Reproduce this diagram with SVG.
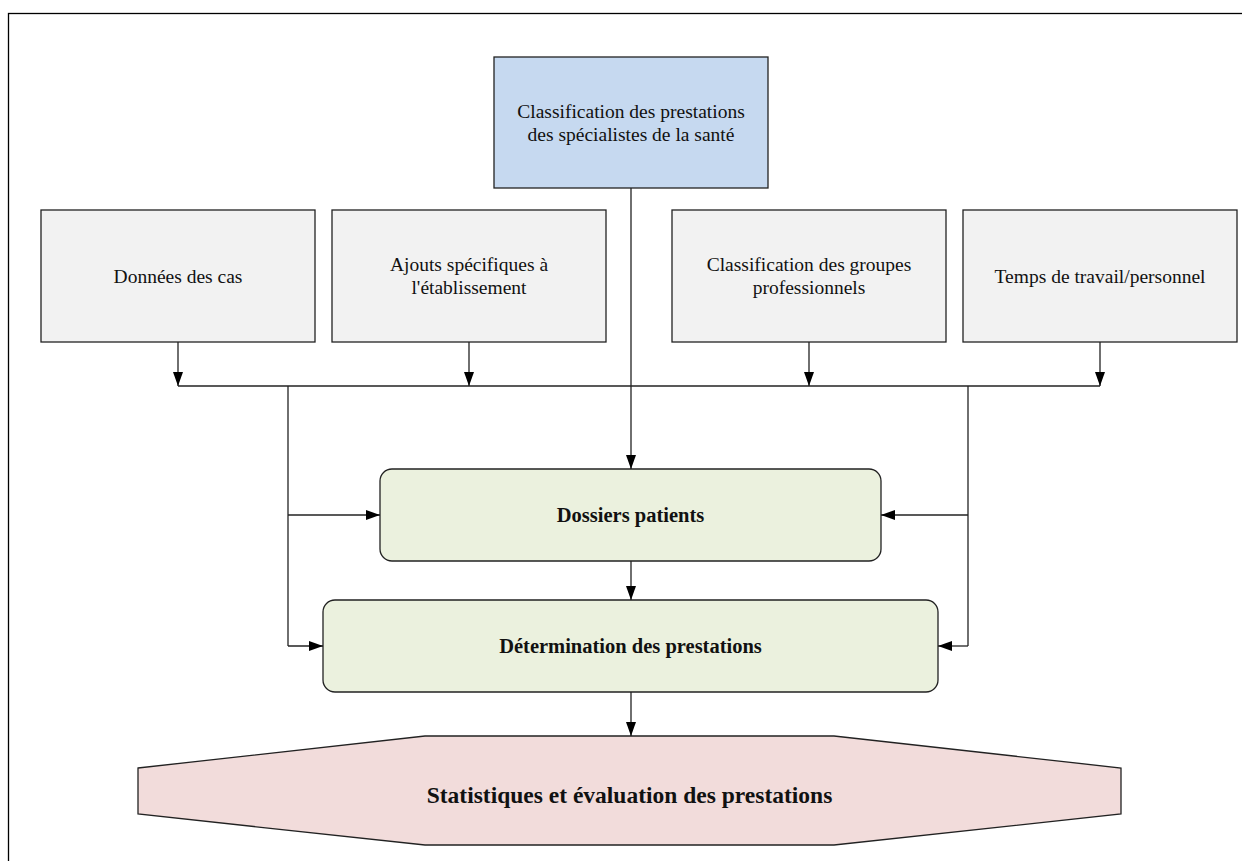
<svg xmlns="http://www.w3.org/2000/svg" width="1242" height="861" viewBox="0 0 1242 861">
  <style>
    .frame { fill: none; stroke: #000; stroke-width: 1.3; }
    .box { stroke: #222; stroke-width: 1.3; }
    .grey { fill: #f2f2f2; }
    .blue { fill: #c6d9f0; }
    .green { fill: #ebf1de; }
    .pink { fill: #f2dcdb; }
    .lbl { font-family: "Liberation Serif", "DejaVu Serif", serif; font-size: 19.5px; fill: #111; text-anchor: middle; }
    .bold { font-weight: bold; font-size: 20.5px; }
    .big { font-size: 23.5px; }
    .conn { fill: none; stroke: #222; stroke-width: 1.3; }
  </style>
  <defs>
    <marker id="arrow" viewBox="0 0 14 10" refX="14" refY="5" markerWidth="14" markerHeight="10" markerUnits="userSpaceOnUse" orient="auto">
      <path d="M0 0 L14 5 L0 10 Z" fill="#000"/>
    </marker>
  </defs>

  <rect x="0" y="0" width="1242" height="861" fill="#fff"/>
  <rect class="frame" x="8.5" y="13.5" width="1260" height="880"/>

  <g id="classification-prestations">
    <rect class="box blue" x="494" y="57" width="274" height="131"/>
    <text class="lbl" x="631" y="118">Classification des prestations</text>
    <text class="lbl" x="631" y="141">des spécialistes de la santé</text>
  </g>

  <g id="donnees-cas">
    <rect class="box grey" x="41" y="210" width="274" height="132"/>
    <text class="lbl" x="178" y="283">Données des cas</text>
  </g>

  <g id="ajouts-specifiques">
    <rect class="box grey" x="332" y="210" width="274" height="132"/>
    <text class="lbl" x="469" y="271">Ajouts spécifiques à</text>
    <text class="lbl" x="469" y="294">l'établissement</text>
  </g>

  <g id="classification-groupes">
    <rect class="box grey" x="672" y="210" width="274" height="132"/>
    <text class="lbl" x="809" y="271">Classification des groupes</text>
    <text class="lbl" x="809" y="294">professionnels</text>
  </g>

  <g id="temps-travail">
    <rect class="box grey" x="963" y="210" width="274" height="132"/>
    <text class="lbl" x="1100" y="283">Temps de travail/personnel</text>
  </g>

  <g id="dossiers-patients">
    <rect class="box green" x="380" y="469" width="501" height="92" rx="12" ry="12"/>
    <text class="lbl bold" x="630.5" y="522">Dossiers patients</text>
  </g>

  <g id="determination-prestations">
    <rect class="box green" x="323" y="600" width="615" height="92" rx="12" ry="12"/>
    <text class="lbl bold" x="630.5" y="653">Détermination des prestations</text>
  </g>

  <g id="statistiques-evaluation">
    <polygon class="box pink" points="138,768 425,736 834,736 1121,768 1121,814 834,845 425,845 138,814"/>
    <text class="lbl bold big" x="629.5" y="803">Statistiques et évaluation des prestations</text>
  </g>

  <g id="connectors">
    <path class="conn" d="M178 386 H1100"/>
    <path class="conn" d="M178 342 V386" marker-end="url(#arrow)"/>
    <path class="conn" d="M469 342 V386" marker-end="url(#arrow)"/>
    <path class="conn" d="M809 342 V386" marker-end="url(#arrow)"/>
    <path class="conn" d="M1100 342 V386" marker-end="url(#arrow)"/>
    <path class="conn" d="M288 386 V646"/>
    <path class="conn" d="M288 515 H380" marker-end="url(#arrow)"/>
    <path class="conn" d="M288 646 H323" marker-end="url(#arrow)"/>
    <path class="conn" d="M968 386 V646"/>
    <path class="conn" d="M968 515 H881" marker-end="url(#arrow)"/>
    <path class="conn" d="M968 646 H938" marker-end="url(#arrow)"/>
    <path class="conn" d="M631 188 V469" marker-end="url(#arrow)"/>
    <path class="conn" d="M631 561 V600" marker-end="url(#arrow)"/>
    <path class="conn" d="M631 692 V736" marker-end="url(#arrow)"/>
  </g>
</svg>
